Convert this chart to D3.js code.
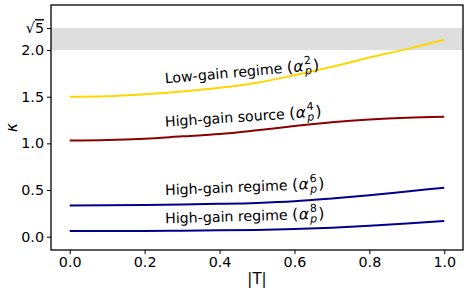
<!DOCTYPE html>
<meta charset="utf-8">
<title>kappa vs T</title>
<style>
  body { margin: 0; background: #fff; }
  svg text { font-family: "DejaVu Sans", sans-serif; fill: #000; }
</style>
<body>
<div id="chart"></div>
<script src="https://d3js.org/d3.v7.min.js"></script>
<script>

// values
var T = [0, 0.1, 0.2, 0.3, 0.4, 0.5, 0.6, 0.7, 0.8, 0.9, 1.0];

var lowGain2  = [1.50, 1.505, 1.525, 1.555, 1.595, 1.65, 1.73, 1.82, 1.92, 2.01, 2.11];
var highSrc4  = [1.03, 1.035, 1.05, 1.075, 1.10, 1.14, 1.185, 1.225, 1.255, 1.275, 1.285];
var highGain6 = [0.335, 0.337, 0.34, 0.345, 0.352, 0.362, 0.38, 0.41, 0.445, 0.485, 0.525];
var highGain8 = [0.06, 0.06, 0.062, 0.065, 0.068, 0.073, 0.082, 0.097, 0.118, 0.142, 0.168];

var seriesNames = ["Low-gain regime ", "High-gain source ", "High-gain regime ", "High-gain regime "];
var seriesPowers = ["2", "4", "6", "8"];

var xTicks = [0, 0.2, 0.4, 0.6, 0.8, 1.0];
var yTicks = [0, 0.5, 1.0, 1.5, 2.0, Math.sqrt(5)];

var series = [
  {values: lowGain2,  color: "#ffd700", lx: 0.255, ly: 1.643, rot: -5},
  {values: highSrc4,  color: "#8b0000", lx: 0.255, ly: 1.178, rot: -3.8},
  {values: highGain6, color: "#00008b", lx: 0.255, ly: 0.447, rot: -2.3},
  {values: highGain8, color: "#00008b", lx: 0.255, ly: 0.143, rot: -1.7}
];

var W = 468, H = 293;
var box = {left: 51, right: 463, top: 5, bottom: 250};

var svg = d3.select("#chart").append("svg")
    .attr("width", W)
    .attr("height", H);

var x = d3.scaleLinear()
  .domain([-0.05, 1.05])
  .range([box.left, box.right]);

var y = d3.scaleLinear()
  .domain([-0.1425, 2.4825])
  .range([box.bottom, box.top]);

// shaded band between 2 and sqrt(5)
svg.append("rect")
  .attr("x", box.left)
  .attr("width", box.right - box.left)
  .attr("y", y(Math.sqrt(5)))
  .attr("height", y(2) - y(Math.sqrt(5)))
  .attr("fill", "#dedede");

var line = d3.line()
  .x(function(d, i) { return x(T[i]); })
  .y(function(d) { return y(d); })
  .curve(d3.curveMonotoneX);

svg.selectAll("path.curve")
  .data(series)
  .enter()
  .append("path")
  .attr("class", "curve")
  .attr("d", function(d) { return line(d.values); })
  .attr("fill", "none")
  .attr("stroke", function(d) { return d.color; })
  .attr("stroke-width", 2);

// curve labels
var labels = svg.selectAll("text.lab")
  .data(series)
  .enter()
  .append("text")
  .attr("class", "lab")
  .attr("font-size", 14.2)
  .attr("transform", function(d) {
    return "translate(" + x(d.lx) + "," + y(d.ly) + ") rotate(" + d.rot + ")";
  });

labels.each(function(d, i) {
  var t = d3.select(this);
  t.append("tspan").text(seriesNames[i]);
  t.append("tspan").attr("font-size", 15.5).text("(");
  t.append("tspan").attr("font-size", 15.5).attr("font-style", "italic").attr("dx", 0.5).text("α");
  t.append("tspan").attr("font-size", 11).attr("dx", 1).attr("dy", -7).text(seriesPowers[i]);
  t.append("tspan").attr("font-size", 11).attr("font-style", "italic")
    .attr("dx", -7).attr("dy", 10.5).text("p");
  t.append("tspan").attr("font-size", 15.5).attr("dy", -3.5).attr("dx", 1.5).text(")");
});

// axes
var xAxis = d3.axisBottom(x)
  .tickValues(xTicks)
  .tickSize(4)
  .tickPadding(3)
  .tickFormat(d3.format(".1f"));

var yAxis = d3.axisLeft(y)
  .tickValues(yTicks)
  .tickSize(4)
  .tickPadding(3)
  .tickFormat(function(d) { return d > 2.1 ? "" : d3.format(".1f")(d); });

var gx = svg.append("g")
  .attr("transform", "translate(0," + box.bottom + ")")
  .call(xAxis);

var gy = svg.append("g")
  .attr("transform", "translate(" + box.left + ",0)")
  .call(yAxis);

[gx, gy].forEach(function(g) {
  g.select(".domain").remove();
  g.selectAll("line").attr("stroke", "#000").attr("stroke-width", 1);
  g.selectAll("text").attr("font-size", 14.3).attr("fill", "#000")
    .attr("font-family", "DejaVu Sans");
});

// sqrt(5) tick label
var s5 = gy.selectAll(".tick").filter(function(d) { return d > 2.1; }).select("text");
s5.append("tspan").text("√");
s5.append("tspan").style("text-decoration", "overline").text("5");

// frame
svg.append("rect")
  .attr("x", box.left)
  .attr("y", box.top)
  .attr("width", box.right - box.left)
  .attr("height", box.bottom - box.top)
  .attr("fill", "none")
  .attr("stroke", "#000")
  .attr("stroke-width", 1.3);

// axis titles
svg.append("text")
  .attr("x", (box.left + box.right) / 2)
  .attr("y", 284)
  .attr("text-anchor", "middle")
  .attr("font-size", 15)
  .text("|T|");

svg.append("text")
  .attr("transform", "translate(17," + ((box.top + box.bottom) / 2) + ") rotate(-90)")
  .attr("text-anchor", "middle")
  .attr("font-size", 15)
  .attr("font-style", "italic")
  .text("κ");

</script>
</body>
